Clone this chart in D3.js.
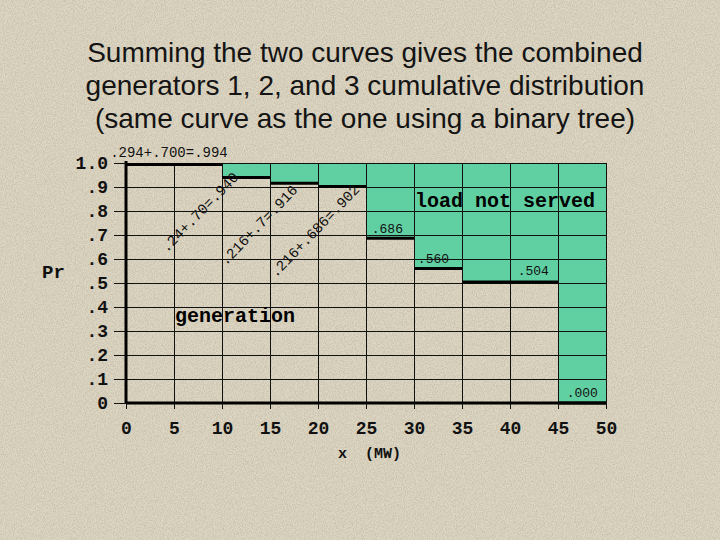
<!DOCTYPE html>
<html>
<head>
<meta charset="utf-8">
<script src="https://cdn.jsdelivr.net/npm/d3@7"></script>
<style>
  body { margin: 0; background: #dbd3be; }
  svg { display: block; }
</style>
</head>
<body>
<div id="chart"></div>
<script>
// combined cumulative distribution, one value per 5 MW step
var stepStarts = [0, 5, 10, 15, 20, 25, 30, 35, 40, 45]
var stepValues = [0.994, 0.994, 0.940, 0.916, 0.902, 0.686, 0.560, 0.504, 0.504, 0.000]

var xTicks = [0, 5, 10, 15, 20, 25, 30, 35, 40, 45, 50]
var yTicks = [0, 0.1, 0.2, 0.3, 0.4, 0.5, 0.6, 0.7, 0.8, 0.9, 1.0]
var yTickLabels = ['0', '.1', '.2', '.3', '.4', '.5', '.6', '.7', '.8', '.9', '1.0']

var titleLines = [
  'Summing the two curves gives the combined',
  'generators 1, 2, and 3 cumulative distribution',
  '(same curve as the one using a binary tree)'
]

// sum labels written along the diagonals, and the step value labels
var sumLabels = ['.24+.70=.940', '.216+.7=.916', '.216+.686=.902']
var sumAt = [[4.25, 0.625], [10.4, 0.571], [15.6, 0.521]]
var valueLabels = ['.294+.700=.994', '.686', '.560', '.504', '.000']
var valueAt = [[-1.65, 1.025], [25.6, 0.708], [30.4, 0.583], [40.8, 0.533], [45.9, 0.025]]

var w = 720
var h = 540
var mono = '"Liberation Mono", "Courier New", monospace'

var svg = d3.select('#chart').append('svg')
  .attr('width', w)
  .attr('height', h)

// paper texture
var defs = svg.append('defs')
var paper = defs.append('filter').attr('id', 'paper')
  .attr('x', 0).attr('y', 0).attr('width', '100%').attr('height', '100%')
paper.append('feTurbulence')
  .attr('type', 'fractalNoise')
  .attr('baseFrequency', '1.1 0.7')
  .attr('numOctaves', 2)
  .attr('seed', 3)
paper.append('feColorMatrix')
  .attr('type', 'matrix')
  .attr('values', '0 0 0 0 0.40  0 0 0 0 0.36  0 0 0 0 0.28  0 0 0 0.9 -0.3')

svg.append('rect').attr('width', w).attr('height', h).attr('fill', '#ded7c3')
svg.append('rect').attr('width', w).attr('height', h).attr('filter', 'url(#paper)')

var x = d3.scaleLinear().domain([0, 50]).range([126, 606])
var y = d3.scaleLinear().domain([0, 1]).range([403, 163])

// title
svg.append('g').selectAll('text')
  .data(titleLines)
  .join('text')
  .attr('x', 365)
  .attr('y', (d, i) => 62 + i * 33)
  .attr('text-anchor', 'middle')
  .attr('font-family', '"Liberation Sans", Arial, sans-serif')
  .attr('font-size', 28)
  .attr('fill', '#141414')
  .text(d => d)

// load not served area
svg.append('g').selectAll('rect')
  .data(stepStarts)
  .join('rect')
  .attr('x', d => x(d))
  .attr('y', y(1))
  .attr('width', x(5) - x(0))
  .attr('height', (d, i) => y(stepValues[i]) - y(1))
  .attr('fill', '#60cfa2')

// grid
var grid = svg.append('g').attr('stroke', '#111').attr('stroke-width', 1)
grid.selectAll('.gy')
  .data(yTicks.slice(1))
  .join('line')
  .attr('x1', x(0)).attr('x2', x(50))
  .attr('y1', d => Math.round(y(d)) + 0.5)
  .attr('y2', d => Math.round(y(d)) + 0.5)
grid.selectAll('.gx')
  .data(xTicks.slice(1))
  .join('line')
  .attr('x1', d => Math.round(x(d)) + 0.5)
  .attr('x2', d => Math.round(x(d)) + 0.5)
  .attr('y1', y(1)).attr('y2', y(0) + 6)

// the step curve
svg.append('g').selectAll('line')
  .data(stepStarts)
  .join('line')
  .attr('x1', d => x(d))
  .attr('x2', d => x(d + 5))
  .attr('y1', (d, i) => y(stepValues[i]))
  .attr('y2', (d, i) => y(stepValues[i]))
  .attr('stroke', '#000')
  .attr('stroke-width', 3)

// axes
var yAxis = d3.axisLeft(y)
  .tickValues(yTicks)
  .tickFormat((d, i) => yTickLabels[i])
  .tickSize(12)
  .tickPadding(6)
svg.append('g')
  .attr('transform', 'translate(' + x(0) + ',0)')
  .call(yAxis)
  .call(g => g.select('.domain').attr('stroke-width', 3).attr('d', 'M0,' + (y(1) - 2) + 'V' + (y(0) + 1)))
  .call(g => g.selectAll('.tick line').attr('stroke', '#111'))
  .call(g => g.selectAll('.tick text')
    .attr('font-family', mono)
    .attr('font-weight', 'bold')
    .attr('font-size', 18)
    .attr('fill', '#111'))

var xAxis = d3.axisBottom(x)
  .tickValues(xTicks)
  .tickSize(6)
  .tickPadding(12)
svg.append('g')
  .attr('transform', 'translate(0,' + y(0) + ')')
  .call(xAxis)
  .call(g => g.select('.domain').attr('stroke-width', 3).attr('d', 'M' + x(0) + ',0H' + x(50)))
  .call(g => g.selectAll('.tick line').attr('stroke', '#111'))
  .call(g => g.selectAll('.tick text')
    .attr('font-family', mono)
    .attr('font-weight', 'bold')
    .attr('font-size', 18)
    .attr('fill', '#111'))

svg.append('text')
  .attr('x', 338).attr('y', 458)
  .attr('xml:space', 'preserve')
  .style('white-space', 'pre')
  .attr('font-family', mono).attr('font-weight', 'bold').attr('font-size', 15)
  .attr('fill', '#111')
  .text('x  (MW)')

svg.append('text')
  .attr('x', 42).attr('y', 278)
  .attr('font-family', mono).attr('font-weight', 'bold').attr('font-size', 19)
  .attr('fill', '#111')
  .text('Pr')

// region names
svg.append('text')
  .attr('x', x(30.1)).attr('y', 207)
  .attr('font-family', mono).attr('font-weight', 'bold').attr('font-size', 20)
  .attr('fill', '#000')
  .text('load not served')

svg.append('text')
  .attr('x', x(5.1)).attr('y', 322)
  .attr('font-family', mono).attr('font-weight', 'bold').attr('font-size', 20)
  .attr('fill', '#000')
  .text('generation')

// value labels
svg.append('g').selectAll('text')
  .data(valueLabels)
  .join('text')
  .attr('x', (d, i) => x(valueAt[i][0]))
  .attr('y', (d, i) => y(valueAt[i][1]))
  .attr('font-family', mono)
  .attr('font-size', (d, i) => i == 0 ? 14 : 13)
  .attr('fill', '#111')
  .text(d => d)

// diagonal sums
svg.append('g').selectAll('text')
  .data(sumLabels)
  .join('text')
  .attr('transform', (d, i) => 'translate(' + x(sumAt[i][0]) + ',' + y(sumAt[i][1]) + ') rotate(-46)')
  .attr('font-family', mono)
  .attr('font-size', 14.5)
  .attr('fill', '#111')
  .text(d => d)
</script>
</body>
</html>
